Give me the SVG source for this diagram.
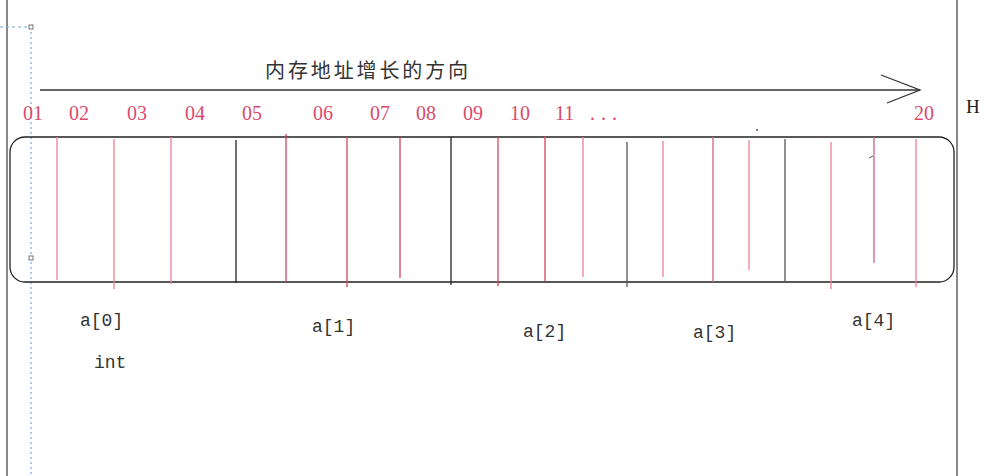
<svg xmlns="http://www.w3.org/2000/svg" width="1000" height="476" viewBox="0 0 1000 476">
<style>
.num{font-family:"Liberation Serif",serif;font-size:20px;fill:#dc4a6a}
.lbl{font-family:"Liberation Mono",monospace;font-size:18px;fill:#333}
.pk{stroke:#ec7f95;stroke-width:1.3}
.rd{stroke:#d8425f;stroke-width:1.3}
.mv{stroke:#c9638a;stroke-width:1.3}
.bk{stroke:#222;stroke-width:1.3}
.gy{stroke:#555;stroke-width:1.3}
</style>
<rect width="1000" height="476" fill="#fff"/>
<g id="frame">
<line x1="7" y1="0" x2="7" y2="476" stroke="#888" stroke-width="2"/>
<line x1="957" y1="0" x2="957" y2="476" stroke="#888" stroke-width="2"/>
<line x1="0" y1="27" x2="31" y2="27" stroke="#7aa6d6" stroke-width="1.2" stroke-dasharray="3,3"/>
<line x1="31" y1="27" x2="31" y2="476" stroke="#7aa6d6" stroke-width="1.2" stroke-dasharray="2,3"/>
<rect x="29" y="25" width="4" height="4" fill="#fff" stroke="#555" stroke-width="0.8"/>
<rect x="29" y="256" width="4" height="4" fill="#fff" stroke="#555" stroke-width="0.8"/>
</g>
<g id="direction">
<text x="265" y="78" font-family="'Noto Sans CJK SC',sans-serif" font-size="20" fill="#333" textLength="203" lengthAdjust="spacing">内存地址增长的方向</text>
</g>
<g id="connectors">
<line x1="40" y1="90" x2="920" y2="90" stroke="#333" stroke-width="1.3"/>
<polyline points="881,75 920,90 887,103" fill="none" stroke="#333" stroke-width="1.3"/>
</g>
<g id="addresses">
<text class="num" x="23" y="120">01</text>
<text class="num" x="69" y="120">02</text>
<text class="num" x="127" y="120">03</text>
<text class="num" x="185" y="120">04</text>
<text class="num" x="242" y="120">05</text>
<text class="num" x="313" y="120">06</text>
<text class="num" x="370" y="120">07</text>
<text class="num" x="416" y="120">08</text>
<text class="num" x="463" y="120">09</text>
<text class="num" x="510" y="120">10</text>
<text class="num" x="555" y="120">11</text>
<text class="num" x="590" y="120" letter-spacing="6">...</text>
<text class="num" x="914" y="120">20</text>
<text x="966" y="113" font-family="'Liberation Serif',serif" font-size="19" fill="#222">H</text>
</g>
<g id="memory">
<rect x="10" y="137" width="944" height="145" rx="15" ry="15" fill="none" stroke="#222" stroke-width="1.3"/>
<line class="pk" x1="57" y1="137" x2="57" y2="280"/>
<line class="pk" x1="114" y1="139" x2="114" y2="289"/>
<line class="pk" x1="171" y1="137" x2="171" y2="284"/>
<line class="bk" x1="236" y1="140" x2="236" y2="283"/>
<line class="rd" x1="286" y1="134" x2="286" y2="282"/>
<line class="rd" x1="347" y1="137" x2="347" y2="287"/>
<line class="rd" x1="400" y1="137" x2="400" y2="278"/>
<line class="bk" x1="451" y1="137" x2="451" y2="285"/>
<line class="rd" x1="498" y1="137" x2="498" y2="286"/>
<line class="rd" x1="545" y1="136" x2="545" y2="281"/>
<line class="pk" x1="583" y1="137" x2="583" y2="277"/>
<line class="gy" x1="627" y1="142" x2="627" y2="287"/>
<line class="pk" x1="663" y1="141" x2="663" y2="277"/>
<line class="mv" x1="713" y1="137" x2="713" y2="282"/>
<line class="pk" x1="749" y1="140" x2="749" y2="270"/>
<line class="gy" x1="785" y1="139" x2="785" y2="282"/>
<line class="pk" x1="831" y1="142" x2="831" y2="289"/>
<line class="mv" x1="874" y1="137" x2="874" y2="263"/>
<line x1="869" y1="158" x2="873" y2="156" stroke="#555" stroke-width="1"/>
<line class="pk" x1="916" y1="139" x2="916" y2="287"/>
<circle cx="757" cy="130" r="1" fill="#555"/>
</g>
<g id="labels">
<text class="lbl" x="80" y="326">a[0]</text>
<text class="lbl" x="94" y="368">int</text>
<text class="lbl" x="312" y="332">a[1]</text>
<text class="lbl" x="523" y="337">a[2]</text>
<text class="lbl" x="693" y="338">a[3]</text>
<text class="lbl" x="852" y="326">a[4]</text>
</g>
</svg>
